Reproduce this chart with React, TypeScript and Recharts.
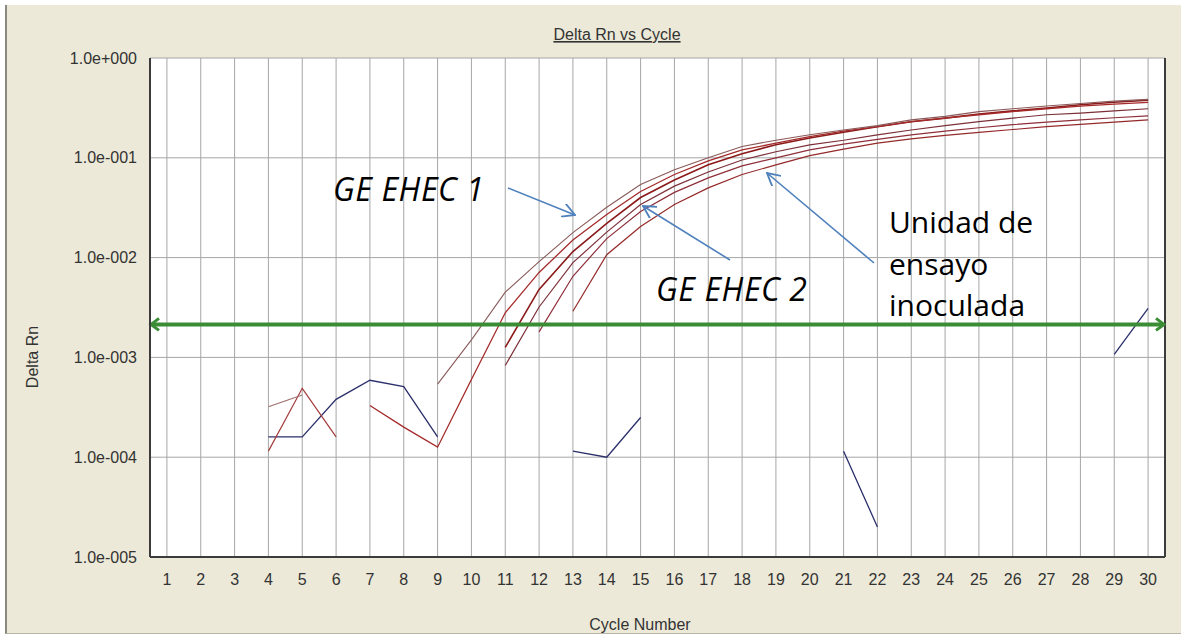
import React from "react";
import { LineChart, Line, XAxis, YAxis, CartesianGrid, ReferenceLine } from "recharts";

// cycle numbers on the x axis
const cycles = [1, 2, 3, 4, 5, 6, 7, 8, 9, 10, 11, 12, 13, 14, 15, 16, 17, 18, 19, 20, 21, 22, 23, 24, 25, 26, 27, 28, 29, 30];
const yTicks = [1e-5, 1e-4, 1e-3, 1e-2, 1e-1, 1];
const threshold = 2.14e-3;

// amplification curves (Delta Rn per cycle, null = not shown on log scale)
const wellA = [null, null, null, null, null, null, null, null, 5.4e-4, 1.5e-3, 4.5e-3, 9.1e-3, 0.0178, 0.032, 0.054, 0.076, 0.1, 0.13, 0.15, 0.17, 0.19, 0.21, 0.24, 0.26, 0.29, 0.31, 0.33, 0.35, 0.37, 0.385];
const wellB = [null, null, null, null, null, null, 3.3e-4, 2.0e-4, 1.26e-4, 6.0e-4, 2.8e-3, 7.1e-3, 0.015, 0.027, 0.046, 0.068, 0.093, 0.12, 0.14, 0.163, 0.185, 0.205, 0.23, 0.25, 0.27, 0.29, 0.31, 0.33, 0.345, 0.36];
const wellC = [null, null, null, null, null, null, null, null, null, null, 1.26e-3, 4.8e-3, 0.0115, 0.022, 0.04, 0.06, 0.085, 0.11, 0.135, 0.158, 0.18, 0.205, 0.23, 0.25, 0.275, 0.295, 0.316, 0.34, 0.36, 0.378];
const wellD = [null, null, null, null, null, null, null, null, null, null, 8.3e-4, 3.2e-3, 8.9e-3, 0.018, 0.034, 0.052, 0.072, 0.095, 0.115, 0.135, 0.15, 0.17, 0.19, 0.21, 0.23, 0.25, 0.27, 0.28, 0.295, 0.31];
const wellE = [null, null, null, null, null, null, null, null, null, null, null, 1.8e-3, 6.5e-3, 0.0155, 0.029, 0.045, 0.063, 0.083, 0.1, 0.12, 0.137, 0.153, 0.17, 0.185, 0.2, 0.215, 0.228, 0.24, 0.252, 0.263];
const wellF = [null, null, null, null, null, null, null, null, null, null, null, null, 2.9e-3, 0.0107, 0.0205, 0.034, 0.05, 0.068, 0.085, 0.105, 0.122, 0.14, 0.155, 0.168, 0.18, 0.192, 0.205, 0.216, 0.228, 0.24];

// baseline noise
const noiseBlue = [null, null, null, 1.6e-4, 1.6e-4, 3.8e-4, 5.9e-4, 5.1e-4, 1.6e-4, null, null, null, 1.15e-4, 1.0e-4, 2.5e-4, null, null, null, null, null, 1.15e-4, 2.0e-5, null, null, null, null, null, null, 1.07e-3, 3.1e-3];
const noiseRed = [null, null, null, 1.15e-4, 4.9e-4, 1.6e-4, null, null, null, null, null, null, null, null, null, null, null, null, null, null, null, null, null, null, null, null, null, null, null, null];
const noisePink = [null, null, null, 3.2e-4, 4.2e-4, null, null, null, null, null, null, null, null, null, null, null, null, null, null, null, null, null, null, null, null, null, null, null, null, null];

const data = cycles.map((c, i) => ({
  cycle: c,
  wellA: wellA[i],
  wellB: wellB[i],
  wellC: wellC[i],
  wellD: wellD[i],
  wellE: wellE[i],
  wellF: wellF[i],
  noiseBlue: noiseBlue[i],
  noiseRed: noiseRed[i],
  noisePink: noisePink[i],
}));

const GREEN = "#3a8c35";
const ARROW = "#4f81bd";
const AXIS_FONT = "'Liberation Sans', Arial, sans-serif";

function formatExp(v: number): string {
  const e = Math.round(Math.log10(v));
  const sign = e < 0 ? "-" : "+";
  return "1.0e" + sign + String(Math.abs(e)).padStart(3, "0");
}

const ThresholdShape = (p: any) => {
  const { x1, y1, x2, y2 } = p;
  return (
    <g>
      <line x1={x1 + 2} y1={y1} x2={x2 - 2} y2={y2} stroke={GREEN} strokeWidth={4} />
      <polyline points={`${x1 + 9},${y1 - 6} ${x1 + 1},${y1} ${x1 + 9},${y1 + 6}`} fill="none" stroke={GREEN} strokeWidth={3} />
      <polyline points={`${x2 - 9},${y2 - 6} ${x2 - 1},${y2} ${x2 - 9},${y2 + 6}`} fill="none" stroke={GREEN} strokeWidth={3} />
    </g>
  );
};

const lineProps = {
  type: "linear" as const,
  dot: false,
  activeDot: false,
  isAnimationActive: false,
  connectNulls: false,
};

export default function App() {
  return (
    <div style={{ position: "absolute", left: 0, top: 0, width: 1181, height: 636, background: "#fff", overflow: "hidden" }}>
      <div
        style={{
          position: "absolute",
          left: 5,
          top: 5,
          width: 1176,
          height: 628,
          background: "#ece9d8",
          borderLeft: "2px solid #8c8a80",
          borderBottom: "1px solid #b8b5a6",
        }}
      />
      <div style={{ position: "absolute", left: 0, top: 0 }}>
        <LineChart width={1181} height={636} data={data} margin={{ top: 58, right: 16, bottom: 49, left: 0 }}>
          <CartesianGrid stroke="#a6a6a6" fill="#ffffff" fillOpacity={1} />
          <XAxis
            dataKey="cycle"
            type="number"
            domain={[0.5, 30.5]}
            ticks={cycles}
            interval={0}
            height={30}
            tickLine={false}
            tickSize={0}
            tickMargin={17}
            axisLine={{ stroke: "#3c3c3c", strokeWidth: 2 }}
            tick={{ fill: "#333", fontSize: 16, fontFamily: AXIS_FONT }}
          />
          <YAxis
            type="number"
            scale="log"
            domain={[1e-5, 1]}
            ticks={yTicks}
            allowDataOverflow
            width={150}
            tickLine={false}
            tickSize={0}
            tickMargin={13}
            tickFormatter={formatExp}
            axisLine={{ stroke: "#3c3c3c", strokeWidth: 2 }}
            tick={{ fill: "#333", fontSize: 16, fontFamily: AXIS_FONT }}
          />
          <ReferenceLine x={30.5} stroke="#3c3c3c" strokeWidth={2} />
          <Line {...lineProps} dataKey="noiseBlue" stroke="#2b2f6b" strokeWidth={1.3} />
          <Line {...lineProps} dataKey="noiseRed" stroke="#a33a3a" strokeWidth={1.2} />
          <Line {...lineProps} dataKey="noisePink" stroke="#a07070" strokeWidth={1.2} />
          <Line {...lineProps} dataKey="wellF" stroke="#952a2a" strokeWidth={1.2} />
          <Line {...lineProps} dataKey="wellE" stroke="#8e2f3a" strokeWidth={1.2} />
          <Line {...lineProps} dataKey="wellD" stroke="#7c3038" strokeWidth={1.2} />
          <Line {...lineProps} dataKey="wellC" stroke="#8b1a1a" strokeWidth={1.6} />
          <Line {...lineProps} dataKey="wellB" stroke="#a52a2a" strokeWidth={1.3} />
          <Line {...lineProps} dataKey="wellA" stroke="#8a5a5a" strokeWidth={1.1} />
          <ReferenceLine y={threshold} shape={ThresholdShape} />
        </LineChart>
      </div>
      <svg width={1181} height={636} style={{ position: "absolute", left: 0, top: 0, pointerEvents: "none" }}>
        <defs>
          <marker id="blueHead" viewBox="0 0 12 12" refX="11" refY="6" markerWidth="14" markerHeight="14" markerUnits="userSpaceOnUse" orient="auto">
            <polyline points="0,0 11,6 0,12" fill="none" stroke={ARROW} strokeWidth="1.6" />
          </marker>
        </defs>
        <text x={617} y={40} textAnchor="middle" fill="#333" fontSize={16} fontFamily={AXIS_FONT} textDecoration="underline">
          Delta Rn vs Cycle
        </text>
        <text x={38} y={357} textAnchor="middle" fill="#333" fontSize={16} fontFamily={AXIS_FONT} transform="rotate(-90 38 357)">
          Delta Rn
        </text>
        <text x={640} y={630} textAnchor="middle" fill="#333" fontSize={16} fontFamily={AXIS_FONT}>
          Cycle Number
        </text>

        <g fontFamily="'Open Sans', sans-serif" fill="#000" fontSize={30}>
          <text x={333} y={201} fontStyle="italic" fontSize={32} letterSpacing={0.6}>GE EHEC 1</text>
          <text x={656} y={301} fontStyle="italic" fontSize={32} letterSpacing={0.6}>GE EHEC 2</text>
          <text x={889} y={233}>Unidad de</text>
          <text x={889} y={275}>ensayo</text>
          <text x={889} y={316}>inoculada</text>
        </g>
        <line x1={508} y1={188} x2={575} y2={215} stroke={ARROW} strokeWidth={1.6} markerEnd="url(#blueHead)" />
        <line x1={730} y1={260} x2={643} y2={206} stroke={ARROW} strokeWidth={1.6} markerEnd="url(#blueHead)" />
        <line x1={874} y1={263} x2={767} y2={173} stroke={ARROW} strokeWidth={1.6} markerEnd="url(#blueHead)" />
      </svg>
    </div>
  );
}
